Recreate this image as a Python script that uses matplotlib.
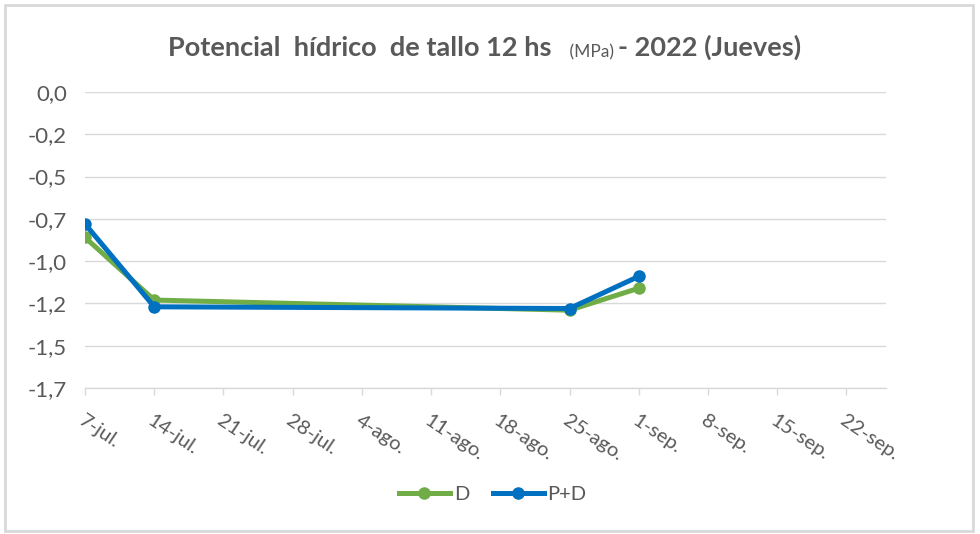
import matplotlib
matplotlib.use('Agg')
import matplotlib.pyplot as plt
import numpy as np
import pandas as pd
from matplotlib.patches import Rectangle

# data
fechas = pd.to_datetime(['2022-07-07', '2022-07-14', '2022-08-25', '2022-09-01'])
d_vals = [-0.86, -1.23, -1.29, -1.16]
pd_vals = [-0.78, -1.27, -1.28, -1.09]

x_ticks = pd.date_range('2022-07-07', '2022-09-22', freq='7D')
x_labels = ['7-jul.', '14-jul.', '21-jul.', '28-jul.', '4-ago.', '11-ago.',
            '18-ago.', '25-ago.', '1-sep.', '8-sep.', '15-sep.', '22-sep.']
y_ticks = [0.0, -0.25, -0.5, -0.75, -1.0, -1.25, -1.5, -1.75]
y_labels = ['0,0', '-0,2', '-0,5', '-0,7', '-1,0', '-1,2', '-1,5', '-1,7']

GRIS = '#595959'
GRID = '#D9D9D9'
VERDE = '#70AD47'
AZUL = '#0070C0'

plt.rcParams['font.family'] = ['Lato', 'DejaVu Sans']

fig = plt.figure(figsize=(9.8, 5.34), dpi=100)
fig.patches.append(Rectangle((5 / 980, 3 / 534), 968 / 980, 526 / 534,
                             transform=fig.transFigure, fill=False,
                             edgecolor=GRID, linewidth=2))

ax = fig.add_axes([85 / 980, 1 - 388 / 534, 801 / 980, 296 / 534])

ax.plot(fechas, d_vals, color=VERDE, lw=3.6, marker='o', ms=8, label='D')
ax.plot(fechas, pd_vals, color=AZUL, lw=3.6, marker='o', ms=8, label='P+D')

ax.set_ylim(-1.75, 0)
ax.set_xlim(pd.Timestamp('2022-07-07'), pd.Timestamp('2022-07-07') + pd.Timedelta(days=81))

ax.set_yticks(y_ticks)
ax.set_yticklabels(y_labels, fontsize=16, color=GRIS)
ax.set_xticks(x_ticks)
ax.set_xticklabels(x_labels, fontsize=14.5, color=GRIS, rotation=-34,
                   ha='left', va='top', rotation_mode='anchor')

ax.tick_params(axis='y', length=0, pad=13)
ax.tick_params(axis='x', length=5, color=GRID, width=1, pad=12)
ax.yaxis.grid(True, color=GRID, lw=1)
ax.set_axisbelow(True)
for s in ['top', 'right', 'left']:
    ax.spines[s].set_visible(False)
ax.spines['bottom'].set_color(GRID)
ax.spines['bottom'].set_linewidth(1)

# titulo con partes de distinto tamaño
t1 = fig.text(168 / 980, 1 - 56 / 534, 'Potencial  hídrico  de tallo 12 hs  ',
              fontsize=19.5, fontweight='bold', color=GRIS, va='baseline')
t2 = ax.annotate(' (MPa) ', xy=(1, 0), xycoords=t1, fontsize=12.5, color=GRIS,
                 va='bottom', annotation_clip=False)
ax.annotate('- 2022 (Jueves)', xy=(1, 0), xycoords=t2, fontsize=19.5,
            fontweight='bold', color=GRIS, va='bottom', annotation_clip=False)

leg = fig.legend(loc='center', bbox_to_anchor=(493 / 980, 1 - 494 / 534), ncol=2,
                 frameon=False, fontsize=14.5, handlelength=2.5, columnspacing=1.2,
                 handletextpad=0.2)
for t in leg.get_texts():
    t.set_color(GRIS)

fig.savefig('out.png', dpi=100)
